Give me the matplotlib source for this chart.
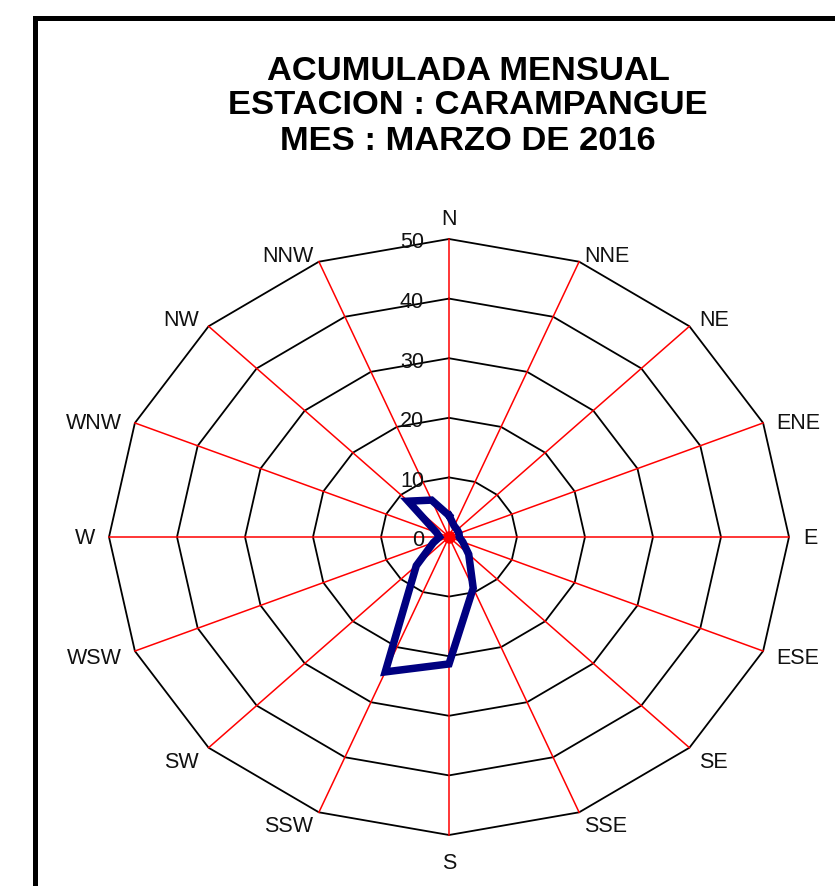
import numpy as np
import matplotlib
matplotlib.use("Agg")
import matplotlib.pyplot as plt
from matplotlib.patches import Rectangle

plt.rcParams['font.family'] = ['Liberation Sans', 'DejaVu Sans']

# ---- data ----
directions = ['N', 'NNE', 'NE', 'ENE', 'E', 'ESE', 'SE', 'SSE',
              'S', 'SSW', 'SW', 'WSW', 'W', 'WNW', 'NW', 'NNW']
frequency = [3.6, 2.0, 1.7, 1.6, 1.5, 2.2, 4.1, 9.3,
             21.3, 24.5, 6.8, 2.5, 1.4, 2.0, 8.5, 6.7]
ring_values = [10, 20, 30, 40, 50]
tick_values = [0, 10, 20, 30, 40, 50]
title_lines = ['ACUMULADA MENSUAL', 'ESTACION : CARAMPANGUE', 'MES : MARZO DE 2016']

# ---- layout ----
W, H = 835, 887
fig = plt.figure(figsize=(W / 100, H / 100), dpi=100)
ax = fig.add_axes([0, 0, 1, 1])
cx, cy = 449, H - 538          # centre in pixels (from bottom-left)
sx, sy = 6.8, 5.96             # pixels per unit
ax.set_xlim(-cx / sx, (W - cx) / sx)
ax.set_ylim(-cy / sy, (H - cy) / sy)
ax.axis('off')

n = len(directions)
theta = np.deg2rad(np.arange(n) * 360.0 / n)
s, c = np.sin(theta), np.cos(theta)
sc = np.append(s, s[0])
cc = np.append(c, c[0])
rmax = max(ring_values)

# rings
for r in ring_values:
    ax.plot(r * sc, r * cc, color='black', lw=1.3, zorder=1)

# spokes
for i in range(n):
    ax.plot([0, rmax * s[i]], [0, rmax * c[i]], color='red', lw=1.1, zorder=2)
ax.plot([0], [0], 'o', color='red', ms=8, zorder=2)

# data polygon
v = np.array(frequency)
vx = np.append(v * s, v[0] * s[0])
vy = np.append(v * c, v[0] * c[0])
ax.plot(vx, vy, color='#000080', lw=5.4, solid_joinstyle='miter', zorder=3)

# value tick labels
for t in tick_values:
    ax.annotate(str(t), xy=(0, t), xytext=(-25, -3), textcoords='offset pixels',
                ha='right', va='center', fontsize=15.5, color='#111111', zorder=4)

# direction labels
for i, name in enumerate(directions):
    x0, y0 = rmax * s[i], rmax * c[i]
    if abs(s[i]) < 0.01:
        ha = 'center'
        dx = 0
        if c[i] > 0:
            va, dy = 'baseline', 15
        else:
            va, dy = 'top', -17
    else:
        ha = 'left' if s[i] > 0 else 'right'
        dx = 14 * s[i]
        if c[i] > 0.5:
            va, dy = 'baseline', 1
        elif c[i] < -0.5:
            va, dy = 'top', -3
        elif c[i] < -0.1:
            va, dy = 'center', -6
        else:
            va, dy = 'center', 0
    ax.annotate(name, xy=(x0, y0), xytext=(dx, dy), textcoords='offset pixels',
                ha=ha, va=va, fontsize=15.5, color='#111111')

# title
title_y = [72, 106, 141]
for line, yp in zip(title_lines, title_y):
    fig.text(468 / W, 1 - yp / H, line, ha='center', va='center',
             fontsize=24.8, fontweight='bold', color='black')

# frame
fig.patches.append(Rectangle((34.5 / W, -0.1), 1.2, 1.1 - 18.5 / H, transform=fig.transFigure,
                             fill=False, edgecolor='black', lw=3.6))

fig.savefig('out.png', dpi=100)
